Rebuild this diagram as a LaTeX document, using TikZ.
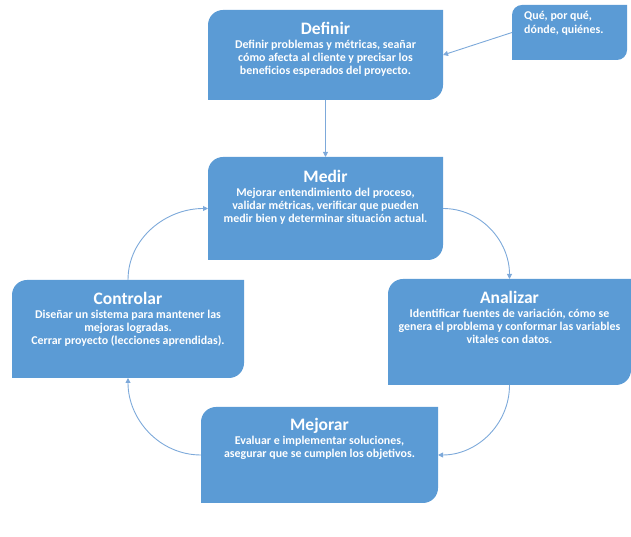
\documentclass[tikz,border=0pt]{standalone}
\usepackage{fontspec}
\setmainfont{Carlito}
\usetikzlibrary{arrows.meta}
\definecolor{boxblue}{HTML}{5B9BD5}
\definecolor{linkblue}{HTML}{7DA9DA}
\tikzset{
  link/.style={draw=linkblue, line width=0.9pt, -{Triangle[length=5pt,width=5pt]}},
  boxtext/.style={text=white, font=\bfseries\fontsize{11.9}{12.8}\selectfont, align=center, inner sep=0pt},
  area/.style={inner sep=0pt, outer sep=0pt, draw=none},
}
% #1 name, #2 x left, #3 Y top, #4 x right, #5 Y bottom, #6 radius
\newcommand\stepshape[6]{%
  \fill[boxblue] (#2,#5) -- (#2,#3-#6) arc[start angle=180,end angle=90,radius=#6pt]
    -- (#4,#3) -- (#4,#5+#6) arc[start angle=0,end angle=-90,radius=#6pt] -- cycle;
  \node[area, minimum width=#4-#2, minimum height=#3-#5] (#1) at ({(#2+#4)/2},{(#3+#5)/2}) {};
}
\newcommand\steptitle[1]{{\fontsize{17.5}{20}\selectfont #1}}
\begin{document}
\begin{tikzpicture}[x=1pt,y=1pt]
\useasboundingbox (0,0) rectangle (631,537);

\stepshape{definir}{208}{527}{443}{437}{15}
\node[boxtext, anchor=north] (definir-t) at (325.5,515)
  {\steptitle{Definir}\\[1.5pt]Definir problemas y métricas, seañar\\cómo afecta al cliente y precisar los\\beneficios esperados del proyecto.};

\stepshape{que}{512}{532}{627}{477}{10}
\node[boxtext, align=left, anchor=north west] (que-t) at (524,526)
  {Qué, por qué,\\[1.5pt]dónde, quiénes.};

\stepshape{medir}{208}{380}{443}{277}{15}
\node[boxtext, anchor=north] (medir-t) at (325.5,367)
  {\steptitle{Medir}\\[1.5pt]Mejorar entendimiento del proceso,\\validar métricas, verificar que pueden\\medir bien y determinar situación actual.};

\stepshape{controlar}{12}{257}{244}{159}{15}
\node[boxtext, anchor=north] (controlar-t) at (128,245)
  {\steptitle{Controlar}\\[1.5pt]Diseñar un sistema para mantener las\\mejoras logradas.\\Cerrar proyecto (lecciones aprendidas).};

\stepshape{analizar}{388}{258}{631}{152}{15}
\node[boxtext, anchor=north] (analizar-t) at (509.5,246)
  {\steptitle{Analizar}\\[1.5pt]Identificar fuentes de variación, cómo se\\genera el problema y conformar las variables\\vitales con datos.};

\stepshape{mejorar}{201}{130}{438}{34}{15}
\node[boxtext, anchor=north] (mejorar-t) at (319.5,119)
  {\steptitle{Mejorar}\\[1.5pt]Evaluar e implementar soluciones,\\asegurar que se cumplen los objetivos.};

\draw[link] (definir.south) -- (medir.north);
\draw[link] (que.west) -- (definir.east);
\draw[link] (medir.east) to[out=0,in=90] (analizar.north);
\draw[link] (analizar.south) to[out=-90,in=0] (mejorar.east);
\draw[link] (mejorar.west) to[out=180,in=-90] (controlar.south);
\draw[link] (controlar.north) to[out=90,in=180] (medir.west);
\end{tikzpicture}
\end{document}
